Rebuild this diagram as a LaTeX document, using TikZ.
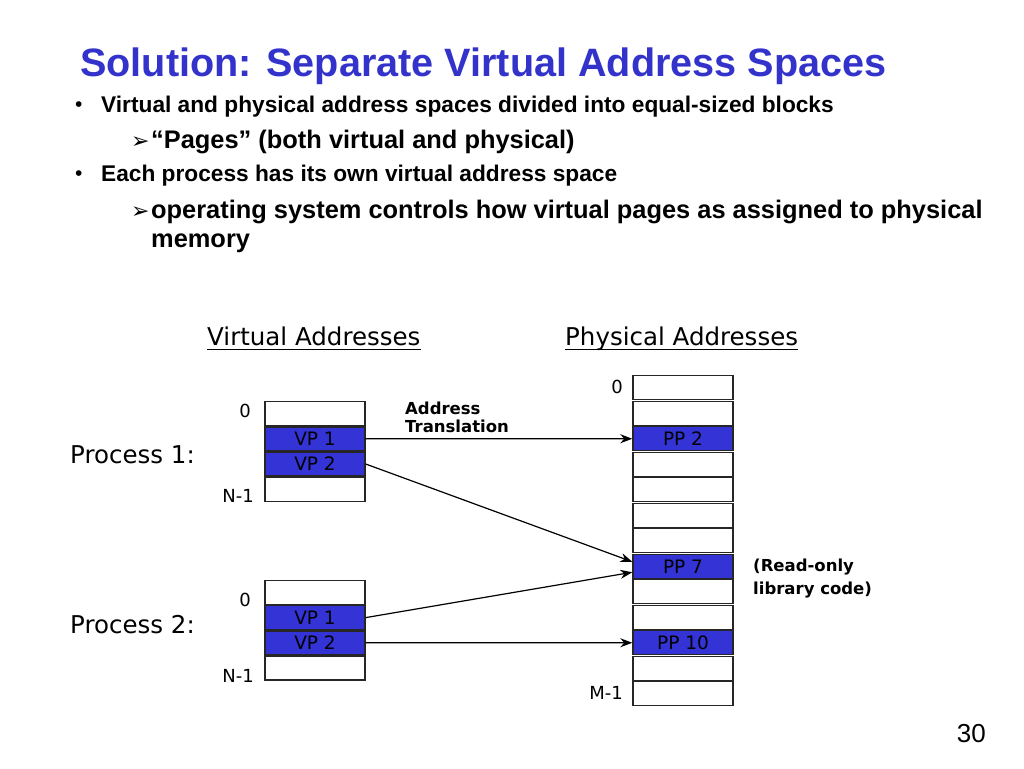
\documentclass[tikz,border=0pt]{standalone}
\usepackage{fontspec}
\setmainfont{Liberation Sans}
\newfontfamily\comic{DejaVu Sans}
\newfontfamily\symf{DejaVu Sans}
\usetikzlibrary{arrows.meta}
\definecolor{titleblue}{RGB}{51,51,204}
\definecolor{vpblue}{RGB}{52,52,214}
\begin{document}
\begin{tikzpicture}[x=1pt,y=-1pt,
  txt/.style={inner sep=0pt, anchor=base west},
  titletxt/.style={txt, text=titleblue, font=\fontsize{39.6}{40}\selectfont\bfseries},
  bul/.style={txt, font=\fontsize{22.7}{24}\selectfont\bfseries},
  dot/.style={txt, font=\fontsize{21}{21}\selectfont},
  subbul/.style={txt, font=\fontsize{25.4}{27}\selectfont\bfseries},
  arrowmark/.style={txt, font=\symf\fontsize{22}{22}\selectfont},
  cell/.style={draw=black!85, line width=1.4pt, fill=white, minimum width=100pt,
    minimum height=24pt, inner sep=0pt, font=\comic\fontsize{18.5}{19}\selectfont},
  vcell/.style={cell, fill=vpblue},
  link/.style={line width=1.2pt, -{Stealth[length=12pt,width=9pt]}},
  lab/.style={inner sep=0pt, anchor=base east, font=\comic\fontsize{18}{18}\selectfont},
  head/.style={txt, font=\comic\fontsize{24.5}{25}\selectfont},
  note/.style={txt, font=\comic\fontsize{16.5}{17}\selectfont\bfseries},
]
\useasboundingbox (0,0) rectangle (1024,768);

% title and bullets
\node[titletxt] (title) at (80,76) {Solution: Separate Virtual Address Spaces};
\node[dot] (b1dot) at (75,111) {•};
\node[bul] (b1) at (101,112) {Virtual and physical address spaces divided into equal-sized blocks};
\node[arrowmark] (s1mark) at (131,148) {➢};
\node[subbul] (s1) at (151,148) {“Pages” (both virtual and physical)};
\node[dot] (b2dot) at (75,180) {•};
\node[bul] (b2) at (101,181) {Each process has its own virtual address space};
\node[arrowmark] (s2mark) at (131,218) {➢};
\node[subbul] (s2) at (151,218) {operating system controls how virtual pages as assigned to physical};
\node[subbul] (s2b) at (151,247) {memory};

% headings
\node[head] (va) at (207,345) {Virtual Addresses};
\node[head] (pa) at (565,345) {Physical Addresses};
\draw[line width=1.6pt] ([yshift=-4.5pt]va.base west) -- ([yshift=-4.5pt]va.base east);
\draw[line width=1.6pt] ([yshift=-4.5pt]pa.base west) -- ([yshift=-4.5pt]pa.base east);

% process 1 virtual space
\node[cell]  (v1a) at (315,413.6) {};
\node[vcell] (v1b) at (315,438.8) {VP 1};
\node[vcell] (v1c) at (315,464.0) {VP 2};
\node[cell]  (v1d) at (315,489.2) {};
\node[lab] (v1zero) at (251,417) {0};
\node[lab] (v1n) at (254,502) {N-1};
\node[head] (p1) at (70,463) {Process 1:};

% process 2 virtual space
\node[cell]  (v2a) at (315,592.4) {};
\node[vcell] (v2b) at (315,617.6) {VP 1};
\node[vcell] (v2c) at (315,642.8) {VP 2};
\node[cell]  (v2d) at (315,668.0) {};
\node[lab] (v2zero) at (251,606) {0};
\node[lab] (v2n) at (254,682) {N-1};
\node[head] (p2) at (70,633) {Process 2:};

% physical space
\foreach \i/\s/\t in {0/cell/,1/cell/,2/vcell/PP 2,3/cell/,4/cell/,5/cell/,6/cell/,
                      7/vcell/PP 7,8/cell/,9/cell/,10/vcell/PP 10,11/cell/,12/cell/}
  \node[\s] (pp\i) at (683,387.75+25.5*\i) {\t};
\node[lab] (pzero) at (623,393) {0};
\node[lab] (pm) at (623,699) {M-1};

% labels
\node[note] (at1) at (405,414) {Address};
\node[note] (at2) at (405,432) {Translation};
\node[note] (ro1) at (753,571) {(Read-only};
\node[note] (ro2) at (753,594) {library code)};

% translations
\draw[link] (v1b.east) -- (pp2.west);
\draw[link] (v1c.east) -- ([yshift=4.5pt]pp7.west);
\draw[link] (v2b.east) -- ([yshift=-6pt]pp7.west);
\draw[link] (v2c.east) -- (pp10.west);

% page number
\node[inner sep=0pt, anchor=base east, font=\fontsize{26}{26}\selectfont] (pg) at (986,742) {30};
\end{tikzpicture}
\end{document}
